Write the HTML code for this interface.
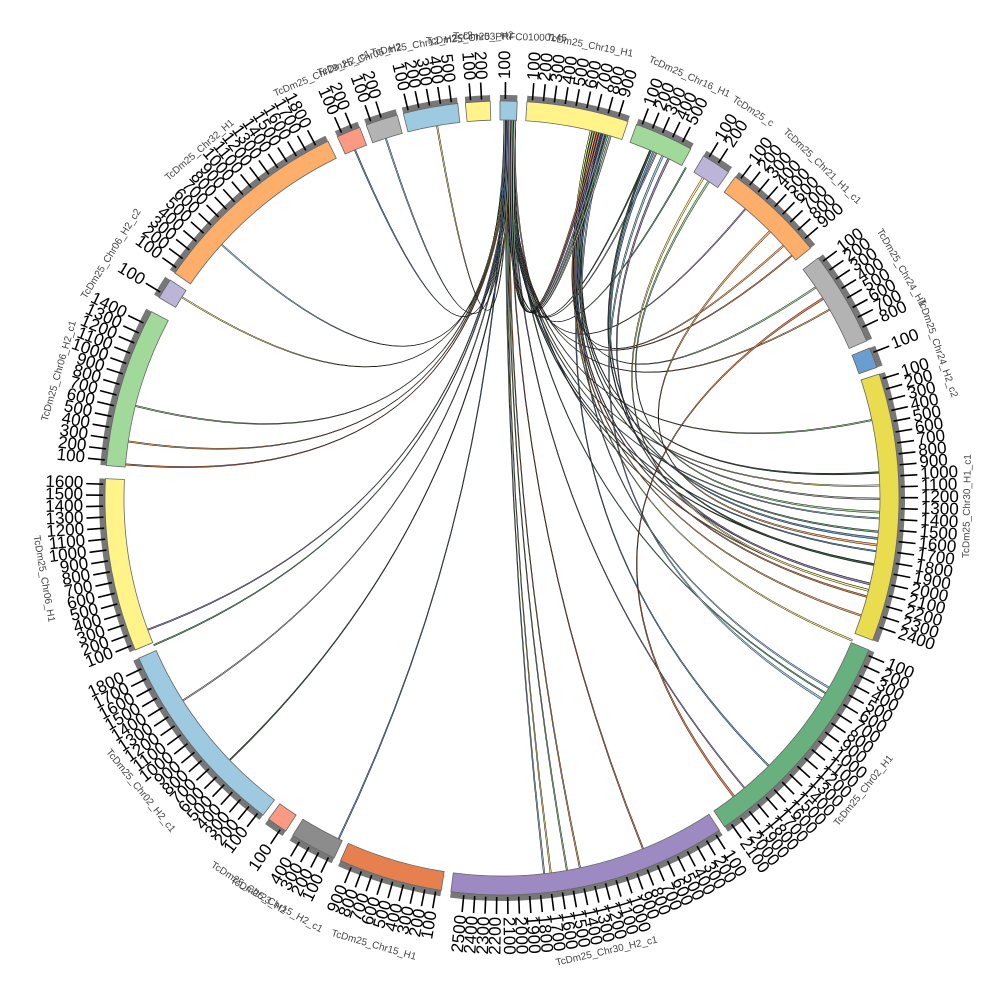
<!DOCTYPE html>
<html><head><meta charset="utf-8"><style>
html,body{margin:0;padding:0;background:#fff;}
svg{display:block;}
.cl{font-family:"Liberation Sans",sans-serif;font-size:10px;fill:#444;text-anchor:middle;}
</style></head><body>
<svg id="s" width="1000" height="1000" viewBox="0 0 1000 1000" xmlns="http://www.w3.org/2000/svg">
<g id="links"></g>
<g id="ring"></g>
<g id="labs">
<text class="cl" x="502" y="40" transform="rotate(1 502 498)">TcDm25_PRFC01000145</text>
<text class="cl" x="502" y="40" transform="rotate(11 502 498)">TcDm25_Chr19_H1</text>
<text class="cl" x="502" y="40" transform="rotate(24 502 498)">TcDm25_Chr16_H1</text>
<text class="cl" x="502" y="40" transform="rotate(33 502 498)">TcDm25_c</text>
<text class="cl" x="502" y="40" transform="rotate(44 502 498)">TcDm25_Chr21_H1_c1</text>
<text class="cl" x="502" y="40" transform="rotate(60 502 498)">TcDm25_Chr24_H1</text>
<text class="cl" x="502" y="40" transform="rotate(71 502 498)">TcDm25_Chr24_H2_c2</text>
<text class="cl" x="502" y="966" transform="rotate(-89 502 498)">TcDm25_Chr30_H1_c1</text>
<text class="cl" x="502" y="966" transform="rotate(-51 502 498)">TcDm25_Chr02_H1</text>
<text class="cl" x="502" y="966" transform="rotate(-13 502 498)">TcDm25_Chr30_H2_c1</text>
<text class="cl" x="502" y="966" transform="rotate(16 502 498)">TcDm25_Chr15_H1</text>
<text class="cl" x="502" y="966" transform="rotate(29 502 498)">TcDm25_Chr15_H2_c1</text>
<text class="cl" x="502" y="966" transform="rotate(33 502 498)">TcDm25_Chr23_H2</text>
<text class="cl" x="502" y="966" transform="rotate(51 502 498)">TcDm25_Chr02_H2_c1</text>
<text class="cl" x="502" y="966" transform="rotate(80 502 498)">TcDm25_Chr06_H1</text>
<text class="cl" x="502" y="40" transform="rotate(-74 502 498)">TcDm25_Chr06_H2_c1</text>
<text class="cl" x="502" y="40" transform="rotate(-58 502 498)">TcDm25_Chr06_H2_c2</text>
<text class="cl" x="502" y="40" transform="rotate(-41 502 498)">TcDm25_Chr32_H1</text>
<text class="cl" x="502" y="40" transform="rotate(-23 502 498)">TcDm25_Chr29_H2_c1</text>
<text class="cl" x="502" y="40" transform="rotate(-18 502 498)">TcDm25_Chr05_H2</text>
<text class="cl" x="502" y="40" transform="rotate(-10 502 498)">TcDm25_Chr12_H2_c2</text>
<text class="cl" x="502" y="40" transform="rotate(-4 502 498)">TcDm25_Chr03_H2</text>
</g>
</svg>
<script>
var CX=502,CY=498,R0=378,R1=397,R2=403,NS="http://www.w3.org/2000/svg";
function pt(a,r){var t=a*Math.PI/180;return [CX+r*Math.sin(t),CY-r*Math.cos(t)];}
function el(n,at,p){var e=document.createElementNS(NS,n);for(var k in at)e.setAttribute(k,at[k]);p.appendChild(e);return e;}
function arc(a0,a1,r0,r1){var p0=pt(a0,r1),p1=pt(a1,r1),p2=pt(a1,r0),p3=pt(a0,r0),l=(a1-a0)>180?1:0;
return "M"+p0+" A"+r1+","+r1+" 0 "+l+" 1 "+p1+" L"+p2+" A"+r0+","+r0+" 0 "+l+" 0 "+p3+"Z";}
var segs=[[-0.3,2.2,"#9ecae1"],[3.6,18.5,"#fff38a"],[19.8,28.4,"#a1d99b"],[30.5,34.8,"#bcb4d9"],[36,51,"#fdae6b"],
[52.8,66.7,"#b3b3b3"],[67.8,70.8,"#6a9ed0"],[71.8,111,"#e9dc4e"],[112.5,145.9,"#69b07f"],[146.8,187.4,"#9e8ac2"],
[188.8,204,"#e6814f"],[205,211.8,"#8c8c8c"],[213,216,"#fb9a82"],[217,246.2,"#9ecae1"],[247.5,272.8,"#fff38a"],
[274.7,298,"#a1d99b"],[300.3,303.3,"#bcb4d9"],[304.5,334,"#fdae6b"],[335.5,339,"#fb9a82"],[340,344.7,"#b3b3b3"],
[345.6,353.6,"#9ecae1"],[354.7,358.3,"#fff38a"]];
var ring=document.getElementById("ring"),links=document.getElementById("links");
segs.forEach(function(s){
 el("path",{d:arc(s[0],s[1],R1,R2),fill:"#777"},ring);
 el("path",{d:arc(s[0],s[1],R0,R1),fill:s[2],stroke:"#666","stroke-width":0.8},ring);
 var st=1.58,n=Math.max(1,Math.floor((s[1]-s[0])/st));
 for(var k=1;k<=n;k++){var a=s[0]+k*st-0.8; if(a>s[1]-0.3)a=s[1]-0.4;
  var p=pt(a,R1+2),q=pt(a,416);el("line",{x1:p[0],y1:p[1],x2:q[0],y2:q[1],stroke:"#000","stroke-width":1.6},ring);
  var lp=pt(a,419),t;
  if(a<180){t=el("text",{x:lp[0],y:lp[1],"font-family":"Liberation Sans, sans-serif","font-size":17,fill:"#000","dominant-baseline":"middle","text-anchor":"start",transform:"rotate("+(a-90)+" "+lp[0]+" "+lp[1]+")"},ring);}
  else{t=el("text",{x:lp[0],y:lp[1],"font-family":"Liberation Sans, sans-serif","font-size":17,fill:"#000","dominant-baseline":"middle","text-anchor":"end",transform:"rotate("+(a+90)+" "+lp[0]+" "+lp[1]+")"},ring);}
  t.textContent=String(k*100);}
});
var pal=["#9ecae1","#fff38a","#a1d99b","#fdae6b","#e6814f","#9e8ac2","#69b07f","#b3b3b3","#3a5a40","#6a9ed0"];
function link(a,b,w,c){var r=R0;var p0=pt(a,r),p1=pt(a+w,r),q0=pt(b,r),q1=pt(b+w,r);
 var d="M"+p0+" Q"+CX+","+CY+" "+q1+" L"+q0+" Q"+CX+","+CY+" "+p1+"Z";
 el("path",{d:d,fill:c,stroke:"#111","stroke-width":0.5},links);}
var topT=[312,302,284,278.5,275,249.5,247,237.5,226,205.5,173.5,172.5,170,168,158,140,121,104,100,98,93,88,78,60,50,40,29,24,23,337,342,350];
topT.forEach(function(b,i){link(0.3+(i%9)*0.2,b,0.2,pal[i%pal.length]);});
var c19=[108,105,103,95,90,86,135,120,112,56,48,1.2,1.6];
c19.forEach(function(b,i){link(13.5+(i%8)*0.35,b,0.25,pal[(i+3)%pal.length]);});
[[15.5,1.0],[16,1.4],[16.5,1.8],[23,100],[23.5,96],[25,122],[32,104],[33,92],[45,97],[58,142],[26,103]].forEach(function(l,i){link(l[0],l[1],0.3,pal[(i+5)%pal.length]);});
</script>
</body></html>
